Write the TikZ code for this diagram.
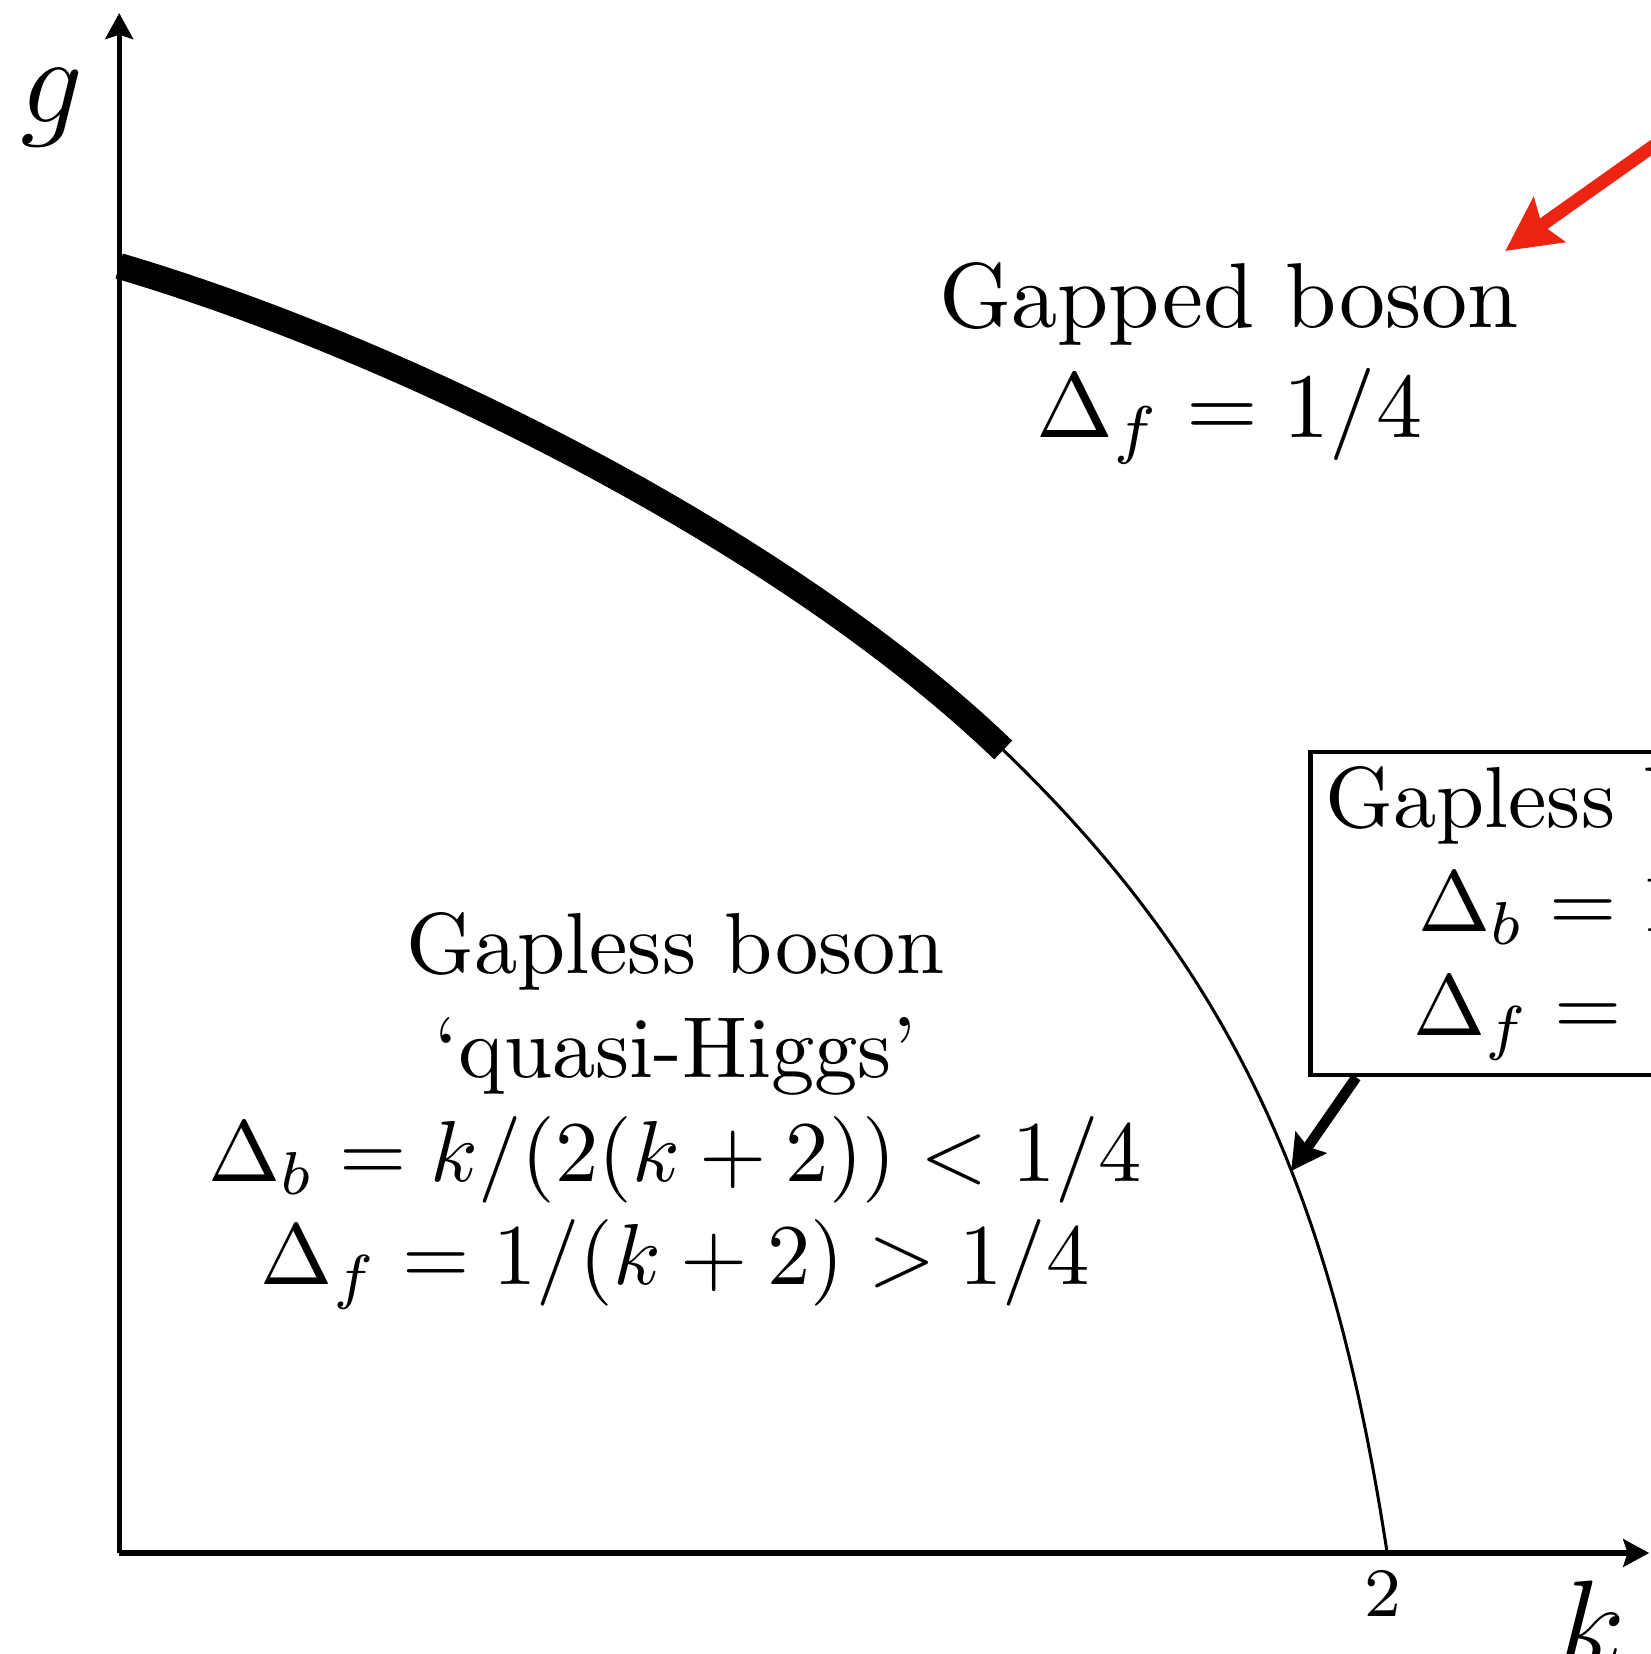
\documentclass[tikz,border=0pt]{standalone}
\usepackage{amsmath}
\usepackage{tikz}
\usetikzlibrary{arrows.meta}
\definecolor{arrowred}{RGB}{238,36,18}

\begin{document}
\begin{tikzpicture}[x=0.406cm, y=0.406cm,
  axis/.style={line width=0.6pt, -{Stealth[length=3pt, width=3.2pt, inset=0.5pt]}},
  phase/.style={align=center}]
\useasboundingbox (-1.192,-1.01) rectangle (15.308,15.53);
% axes
\coordinate (O) at (0,0);
\coordinate (gtip) at (0,15.40);
\coordinate (ktip) at (15.30,0);
\draw[axis] (O) -- (gtip);
\draw[axis] (O) -- (ktip);
\node[font=\Large] (glabel) at (-0.67,14.45) {$g$};
\node[font=\Large] (klabel) at (14.72,-0.71) {$k$};
\node[font=\footnotesize] (twolabel) at (12.64,-0.41) {$2$};

% phase boundary
\coordinate (gstart) at (0,12.87);
\coordinate (kink) at (8.84,8.03);
\coordinate (kcrit) at (12.68,0);
\draw[line width=3pt] (gstart) .. controls (2.877,12.02) and (6.677,10.11) .. (kink);
\draw[line width=0.35pt] (kink) .. controls (11.219,5.743) and (12.148,3.458) .. (kcrit);

% phases
\node[phase] (gapless) at (5.56,4.42) {Gapless boson\\ ‘quasi-Higgs’\\ $\Delta_b=k/(2(k+2))<1/4$\\ $\Delta_f=1/(k+2)>1/4$};
\coordinate (gappedpos) at (11.10,11.90);
\node[phase, scale=1.065, transform shape] (gapped) at (gappedpos) {Gapped boson\\ $\Delta_f=1/4$};
\node[phase, draw, line width=0.5pt, inner sep=1.7pt, anchor=north west] (critbox) at (11.89,8.03) {Gapless boson\\ $\Delta_b=1/4$\\ $\Delta_f=1/4$};

% pointers
\coordinate (onarc) at (11.72,3.82);
\draw[line width=1.2pt, -{Stealth[length=4pt, width=4.3pt, inset=0.6pt]}] ([xshift=1.95mm]critbox.south west) -- (onarc);
\coordinate (redtail) at (16.33,14.77);
\coordinate (redtip) at (13.86,13.02);
\draw[arrowred, line width=1.5pt, -{Stealth[length=6.2pt, width=6.2pt, inset=1pt]}] (redtail) -- (redtip);
\end{tikzpicture}
\end{document}
